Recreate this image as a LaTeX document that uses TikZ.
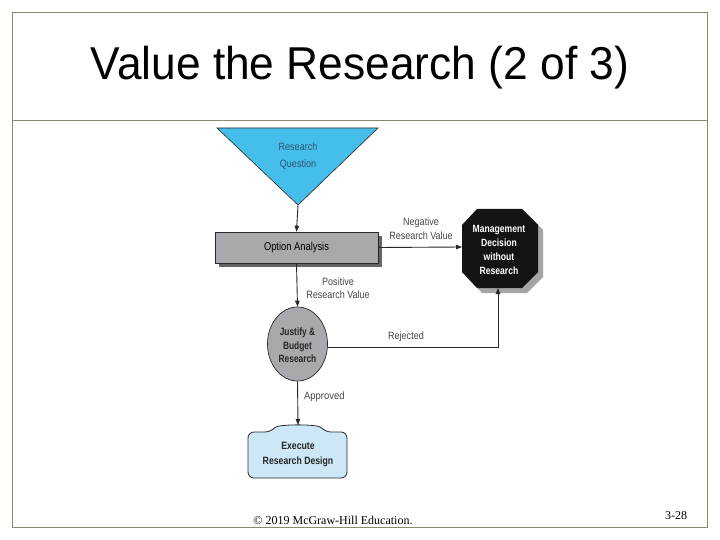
\documentclass[tikz,border=0pt]{standalone}
\usepackage{fontspec}
\setmainfont{Liberation Sans}
\newfontfamily\serifft{Liberation Serif}
\usetikzlibrary{arrows.meta,shapes.geometric}
\definecolor{framec}{RGB}{134,138,110}
\definecolor{cyanfill}{RGB}{70,190,235}
\definecolor{boxgray}{RGB}{168,169,172}
\definecolor{shadowdark}{RGB}{100,100,102}
\definecolor{shadowlight}{RGB}{165,165,167}
\definecolor{lightblue}{RGB}{204,232,247}
\definecolor{linec}{RGB}{40,40,40}
\definecolor{labelc}{RGB}{70,70,70}
\definecolor{tritext}{RGB}{45,85,110}
\newcommand{\cnd}[1]{\scalebox{0.85}[1]{#1}}
\newcommand{\cndb}[1]{\scalebox{0.82}[1]{#1}}
\tikzset{
  conn/.style={draw=linec, line width=0.9pt, -{Triangle[length=6pt,width=4.5pt]}},
  lab/.style={text=labelc, align=center, inner sep=0pt},
  boldtxt/.style={align=center, inner sep=0pt},
}
\begin{document}
\begin{tikzpicture}[x=1pt,y=-1pt]
\useasboundingbox (0,0) rectangle (720,540);
\fill[white] (0,0) rectangle (720,540);
% frame
\draw[framec, line width=0.8pt] (12,12) rectangle (707,527);
\draw[framec, line width=0.8pt] (12,120) -- (707,120);
\node[font=\fontsize{44.3}{50}\selectfont, inner sep=0pt] (title) at (360,68) {\scalebox{1}[1.04]{Value the Research (2 of 3)}};
% footer
\node[font=\serifft\fontsize{12}{14}\selectfont] (foot) at (333,520) {© 2019 McGraw-Hill Education.};
\node[font=\serifft\fontsize{12}{14}\selectfont] (page) at (676,516) {3-28};

% Research Question triangle
\draw[fill=cyanfill, draw=linec, line width=0.6pt] (217,128) -- (378,128) -- (298,205) -- cycle;
\coordinate (rq) at (298,205);
\node[font=\fontsize{10.6}{17}\selectfont, text=tritext, align=center] (rqt) at (298,156) {\cnd{Research}\\\cnd{Question}};

% Option analysis box
\fill[shadowdark] (219,236) rectangle (382,267);
\node[draw=linec, line width=0.6pt, fill=boxgray, minimum width=163pt, minimum height=31pt, inner sep=0pt,
      font=\fontsize{11.4}{13}\selectfont] (oa) at (296.5,247.5) {\cndb{Option Analysis}};

% Management decision octagon
\fill[shadowlight, shift={(5,5)}] (477,209) -- (522,209) -- (538,225) -- (538,272) -- (522,288) -- (477,288) -- (462,272) -- (462,225) -- cycle;
\fill[black!92] (477,209) -- (522,209) -- (538,225) -- (538,272) -- (522,288) -- (477,288) -- (462,272) -- (462,225) -- cycle;
\coordinate (mdw) at (462,247);
\coordinate (mds) at (498,288);
\node[boldtxt, text=white, font=\fontsize{10.5}{13.8}\selectfont\bfseries] (md) at (499,250) {\cndb{Management}\\\cndb{Decision}\\\cndb{without}\\\cndb{Research}};

% Justify & Budget ellipse
\node[ellipse, draw=linec, line width=0.7pt, fill=boxgray, minimum width=60pt, minimum height=74pt, inner sep=0pt] (jb) at (297.5,344) {};
\node[boldtxt, font=\fontsize{10.6}{13.5}\selectfont\bfseries, text=black!85] (jbt) at (297.5,345.5) {\scalebox{0.79}[1]{Justify \&}\\\scalebox{0.79}[1]{Budget}\\\scalebox{0.79}[1]{Research}};

% Execute research design
\draw[draw=linec, line width=0.8pt, fill=lightblue, rounded corners=6pt]
  (248,455) -- (248,432) -- (271,432) .. controls (278,424) and (318,424) .. (325,432) -- (347,432) -- (347,478) -- (248,478) -- cycle;
\coordinate (ext) at (298,425);
\node[boldtxt, font=\fontsize{10.6}{15}\selectfont\bfseries, text=black!85] (ex) at (298,454) {\cndb{Execute}\\\cndb{Research Design}};

% connectors
\draw[conn] (rq) -- (oa.north);
\draw[conn] (oa.east) -- (mdw);
\draw[conn] (oa.south) -- (jb.north);
\draw[conn] (jb.south) -- (ext);
\draw[conn] (jb.east) ++(0,3) -| (mds);

% labels
\node[lab, font=\fontsize{10.6}{14}\selectfont] (lneg) at (421,228.5) {\cnd{Negative}\\\cnd{Research Value}};
\node[lab, font=\fontsize{10.6}{13}\selectfont] (lpos) at (338,288) {\cnd{Positive}\\\cnd{Research Value}};
\node[lab, font=\fontsize{10.6}{13}\selectfont] (lrej) at (406,336.5) {\cnd{Rejected}};
\node[lab, font=\fontsize{10.6}{13}\selectfont, anchor=west] (lapp) at (304,396.5) {\scalebox{0.89}[1]{Approved}};
\end{tikzpicture}
\end{document}
